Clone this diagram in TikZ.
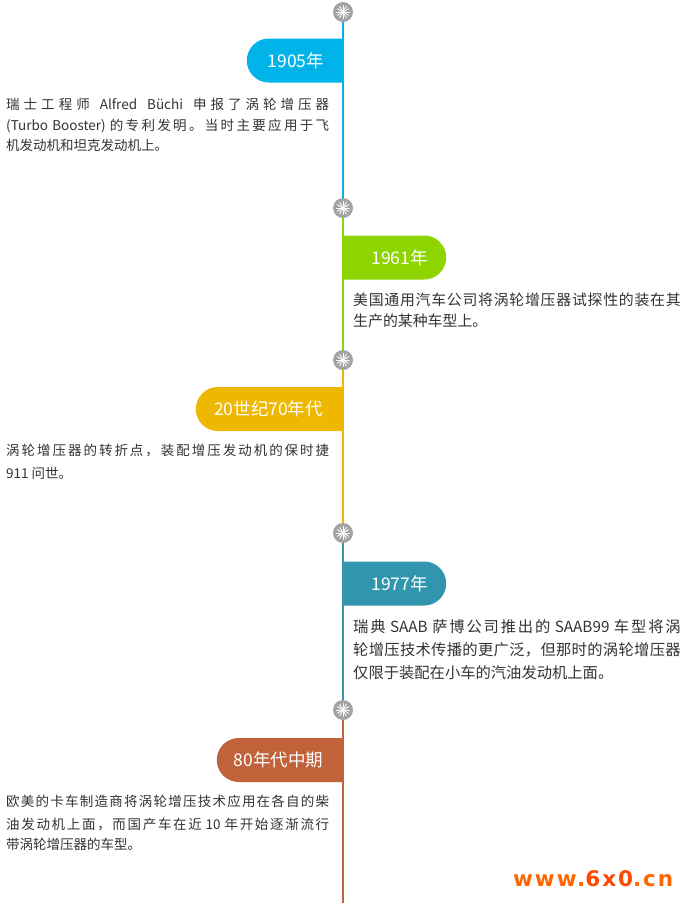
\documentclass[tikz,border=0pt]{standalone}
\usepackage{fontspec}
\setmainfont{Noto Sans CJK SC}
\newfontfamily\wmfont[LetterSpace=9]{DejaVu Sans}
\usetikzlibrary{shapes.misc}
\definecolor{tlblue}{HTML}{00B4EA}
\definecolor{tlgreen}{HTML}{8DD400}
\definecolor{tlyellow}{HTML}{EFB800}
\definecolor{tlteal}{HTML}{3196AD}
\definecolor{tlbrown}{HTML}{C1623B}
\definecolor{dotgray}{HTML}{A3A3A3}
\definecolor{bodygray}{HTML}{333333}
\definecolor{wmorange}{HTML}{FF6600}
\definecolor{wmred}{HTML}{FF4800}
% own character class for CJK ideographs and full-width punctuation
\newcount\hzcount
\hzcount="4E00
\loop
  \XeTeXcharclass\hzcount=11
  \advance\hzcount by 1
\ifnum\hzcount<"A000 \repeat
\XeTeXcharclass"3002=11
\XeTeXcharclass"FF0C=11
\XeTeXinterchartokenstate=1
\newcommand\cjkgap{\hskip 0pt plus 3pt\relax}
\XeTeXinterchartoks 11 11 = {\cjkgap}
\newcommand\wsp{\hskip 6pt plus 3pt\relax}
\tikzset{
  dot/.style={circle, fill=dotgray, minimum size=20pt, inner sep=0pt},
  tl/.style={line width=2pt},
  spoke/.style={white, line width=0.9pt, line cap=round},
  pillL/.style={rounded rectangle, rounded rectangle right arc=none, minimum height=44pt, inner sep=0pt, anchor=east},
  pillR/.style={rounded rectangle, rounded rectangle left arc=none, minimum height=44pt, inner sep=0pt, anchor=west},
  tag/.style={text=white, font=\fontsize{17.5}{20}\selectfont, anchor=base, inner sep=0pt},
  bodyL/.style={text=bodygray, font=\fontsize{13.5}{16}\selectfont, anchor=base west, inner sep=0pt},
  bodyA/.style={text=bodygray, font=\fontsize{14.9}{18}\selectfont, anchor=base west, inner sep=0pt},
  bodyB/.style={text=bodygray, font=\fontsize{15.3}{18}\selectfont, anchor=base west, inner sep=0pt},
  wmark/.style={font=\wmfont\bfseries\fontsize{21.5}{24}\selectfont, anchor=base west, inner sep=0pt}
}
\begin{document}
\begin{tikzpicture}[x=1pt,y=-1pt]
\useasboundingbox (0,0) rectangle (687,903);
\fill[white] (0,0) rectangle (687,903);
% pills
\node[pillL, fill=tlblue, minimum width=96pt] (p1) at (343,60.5) {};
\node[pillR, fill=tlgreen, minimum width=103pt] (p2) at (343,257.5) {};
\node[pillL, fill=tlyellow, minimum width=147pt] (p3) at (343,409) {};
\node[pillR, fill=tlteal, minimum width=103pt] (p4) at (343,583.5) {};
\node[pillL, fill=tlbrown, minimum width=126pt] (p5) at (343,760) {};
% timeline dots
\node[dot] (c1) at (343,12) {};
\node[dot] (c2) at (343,208) {};
\node[dot] (c3) at (343,360) {};
\node[dot] (c4) at (343,533) {};
\node[dot] (c5) at (343,710) {};
\coordinate (cend) at (343,903);
\draw[tl, tlblue] (c1) -- (c2);
\draw[tl, tlgreen] (c2) -- (c3);
\draw[tl, tlyellow] (c3) -- (c4);
\draw[tl, tlteal] (c4) -- (c5);
\draw[tl, tlbrown] (c5) -- (cend);
\foreach \c in {c1,c2,c3,c4,c5}{
  \foreach \a in {0,30,...,330}{
    \draw[spoke] (\c.center) -- ++(\a:6.5);
  }
  \fill[white] (\c.center) circle (1.6);
}
% tag texts
\node[tag] (t1) at (296,67) {1905年};
\node[tag] (t2) at (399.5,264) {1961年};
\node[tag] (t3) at (268.5,415.5) {20世纪70年代};
\node[tag] (t4) at (399.5,590) {1977年};
\node[tag] (t5) at (278.5,766.5) {80年代中期};
% body texts
\node[bodyL] (a1) at (6,109) {\hbox to 323pt{瑞士工程师\wsp Alfred\wsp Büchi\wsp 申报了涡轮增压器}};
\node[bodyL] (a2) at (6,130) {\hbox to 323pt{(Turbo Booster) 的专利发明。当时主要应用于飞}};
\node[bodyL] (a3) at (6,150.5) {机发动机和坦克发动机上。};
\node[bodyA] (b1) at (353,305.2) {\hbox to 327.5pt{美国通用汽车公司将涡轮增压器试探性的装在其}};
\node[bodyA] (b2) at (353,326.3) {生产的某种车型上。};
\node[bodyL] (d1) at (6,455) {\hbox to 323pt{涡轮增压器的转折点，装配增压发动机的保时捷}};
\node[bodyL] (d2) at (6,478) {911 问世。};
\node[bodyB] (e1) at (353,632.4) {\hbox to 327.5pt{瑞典 SAAB 萨博公司推出的 SAAB99 车型将涡}};
\node[bodyB] (e2) at (353,655.7) {\hbox to 327.5pt{轮增压技术传播的更广泛，但那时的涡轮增压器}};
\node[bodyB] (e3) at (353,678.7) {仅限于装配在小车的汽油发动机上面。};
\node[bodyL] (f1) at (6,806.7) {\hbox to 323pt{欧美的卡车制造商将涡轮增压技术应用在各自的柴}};
\node[bodyL] (f2) at (6,829) {\hbox to 323pt{油发动机上面，而国产车在近 10 年开始逐渐流行}};
\node[bodyL] (f3) at (6,849.5) {带涡轮增压器的车型。};
% watermark
\node[wmark] (wm) at (513,886.5) {\textcolor{wmorange}{www.}\textcolor{wmred}{6x0}\textcolor{wmorange}{.cn}};
\end{tikzpicture}
\end{document}
